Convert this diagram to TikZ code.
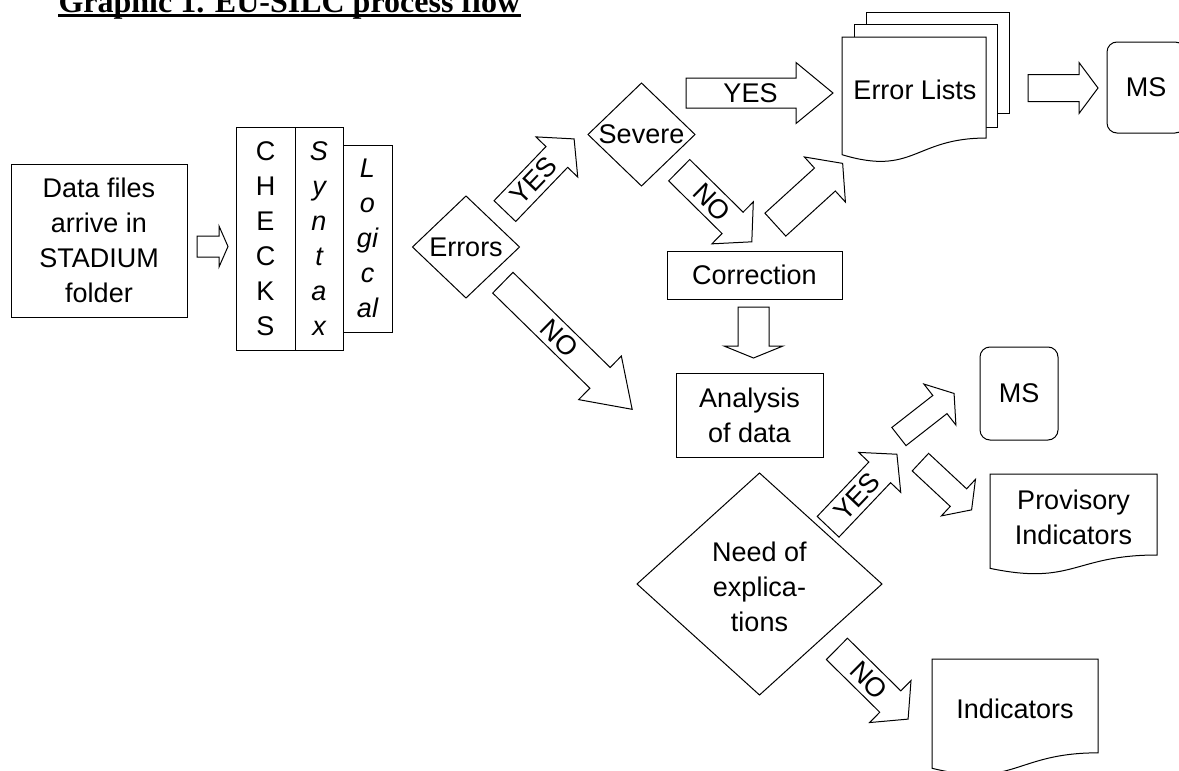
\documentclass[tikz,border=0pt]{standalone}
\usepackage{fontspec}
\setmainfont{Liberation Sans}
\newfontfamily\titleserif{Liberation Serif}
\newcommand{\lblfont}{\fontsize{27}{35}\selectfont}
\newcommand{\ttlfont}{\titleserif\bfseries\fontsize{32}{38}\selectfont}
% name, center, angle, length, shaft width, head width, head length, label, label position
\newcommand{\blockarrow}[9]{%
  \begin{scope}[shift={#2}, rotate=#3]
    \draw[arrowline] ({-#4/2},{-#5/2}) -- ({#4/2-#7},{-#5/2}) -- ({#4/2-#7},{-#6/2}) -- ({#4/2},0)
      -- ({#4/2-#7},{#6/2}) -- ({#4/2-#7},{#5/2}) -- ({-#4/2},{#5/2}) -- cycle;
    \node[transform shape, inner sep=0] (#1) at ({#9},0) {#8};
  \end{scope}}
% x, y (top left), width, height
\newcommand{\docshape}[4]{%
  \draw[docline] (#1,#2) -- ({#1+#3},#2) -- ({#1+#3},{#2+0.802*#4})
    .. controls ({#1+0.5*#3},{#2+0.802*#4}) and ({#1+0.5*#3},{#2+1.107*#4}) .. (#1,{#2+0.934*#4}) -- cycle;}
% name of text node, center x, center y, half width, half height
\newcommand{\diamondpath}[4]{%
  \draw[diaedge] ({#1-#3},#2) -- (#1,{#2-#4}) -- ({#1+#3},#2) -- (#1,{#2+#4}) -- cycle;}
\begin{document}
\begin{tikzpicture}[x=1pt,y=-1pt,line width=1pt,
  every node/.style={font=\lblfont},
  box/.style={draw, rectangle, inner sep=0pt, align=center},
  ibox/.style={box, font=\lblfont\itshape},
  diaedge/.style={draw, line join=miter},
  msbox/.style={box, rounded corners=10pt, minimum width=78pt},
  arrowline/.style={draw, fill=white, line join=miter},
  docline/.style={draw, fill=white}]
\useasboundingbox (0,0) rectangle (1179,771);

% title
\node[anchor=base west, inner sep=0pt, font=\ttlfont] (title) at (58,12.5) {Graphic 1. EU-SILC process flow};
\draw[line width=3.5pt] ([yshift=-3pt]title.base west) -- ([yshift=-3pt]title.base east);

% left part
\node[box, minimum width=176pt, minimum height=153pt] (data) at (99,240.5) {Data files\\arrive in\\STADIUM\\folder};
\node[box, minimum width=59pt, minimum height=223pt] (checks) at (265.5,238.5) {C\\H\\E\\C\\K\\S};
\node[ibox, minimum width=48pt, minimum height=223pt] (syntax) at (319,238.5) {S\\y\\n\\t\\a\\x};
\node[ibox, minimum width=49pt, minimum height=187pt] (logical) at (367.5,238.5) {L\\o\\gi\\c\\al};

% decisions
\diamondpath{466}{247}{53.5}{51}
\node[inner sep=0pt] (errors) at (466,247) {Errors};
\diamondpath{641.5}{134.5}{53.5}{51.5}
\node[inner sep=0pt] (severe) at (641.5,134.5) {Severe};
\diamondpath{759.5}{584}{122.5}{111}
\node[inner sep=0pt, align=center] (need) at (759.5,587) {Need of\\explica-\\tions};

% boxes
\node[box, minimum width=175pt, minimum height=48pt] (corr) at (754.5,275) {Correction};
\node[box, minimum width=147pt, minimum height=84pt] (analysis) at (749.5,415) {Analysis\\of data};
\node[msbox, minimum height=91pt] (ms1) at (1146,87.5) {MS};
\node[msbox, minimum height=93pt] (ms2) at (1019,393.5) {MS};

% error lists (multi document)
\draw[docline] (866,12) rectangle (1009,113);
\draw[docline] (854,24) rectangle (997,127);
\docshape{842}{37}{144}{126}
\node (errlists) at (915,90) {Error Lists};

% provisory indicators
\docshape{990}{474}{167}{101}
\node[align=center] (prov) at (1073.5,517.5) {Provisory\\Indicators};

% indicators
\docshape{932}{659}{166}{117}
\node (ind) at (1015,709) {Indicators};

% block arrows
\blockarrow{a1}{(212.5,246.5)}{0}{31}{21}{41}{9}{}{0}
\blockarrow{yes1}{(539.5,175)}{46.2}{100}{30}{58}{25}{YES}{-8}
\blockarrow{yes2}{(759.5,93)}{0}{147}{30}{61}{37}{YES}{-9}
\blockarrow{no1}{(715.5,206)}{-44.6}{102}{30}{59}{27}{NO}{-5}
\blockarrow{a2}{(809,194)}{42.3}{91}{31}{61}{24}{}{0}
\blockarrow{a3}{(1063,88)}{0}{70}{27}{51}{19}{}{0}
\blockarrow{no2}{(567.5,346)}{-44.4}{181}{29}{61}{45}{NO}{-11}
\blockarrow{a4}{(753.5,332.5)}{-90}{51}{31}{59}{12}{}{0}
\blockarrow{yes3}{(862.5,490.5)}{46.5}{100}{30}{58}{25}{YES}{-8}
\blockarrow{a5}{(926.5,415)}{38}{70}{23}{52}{18}{}{0}
\blockarrow{a6}{(946,486)}{-43}{70}{24}{50}{18}{}{0}
\blockarrow{no3}{(872.5,684)}{-44.6}{100}{30}{59}{25}{NO}{-5}
\end{tikzpicture}
\end{document}
